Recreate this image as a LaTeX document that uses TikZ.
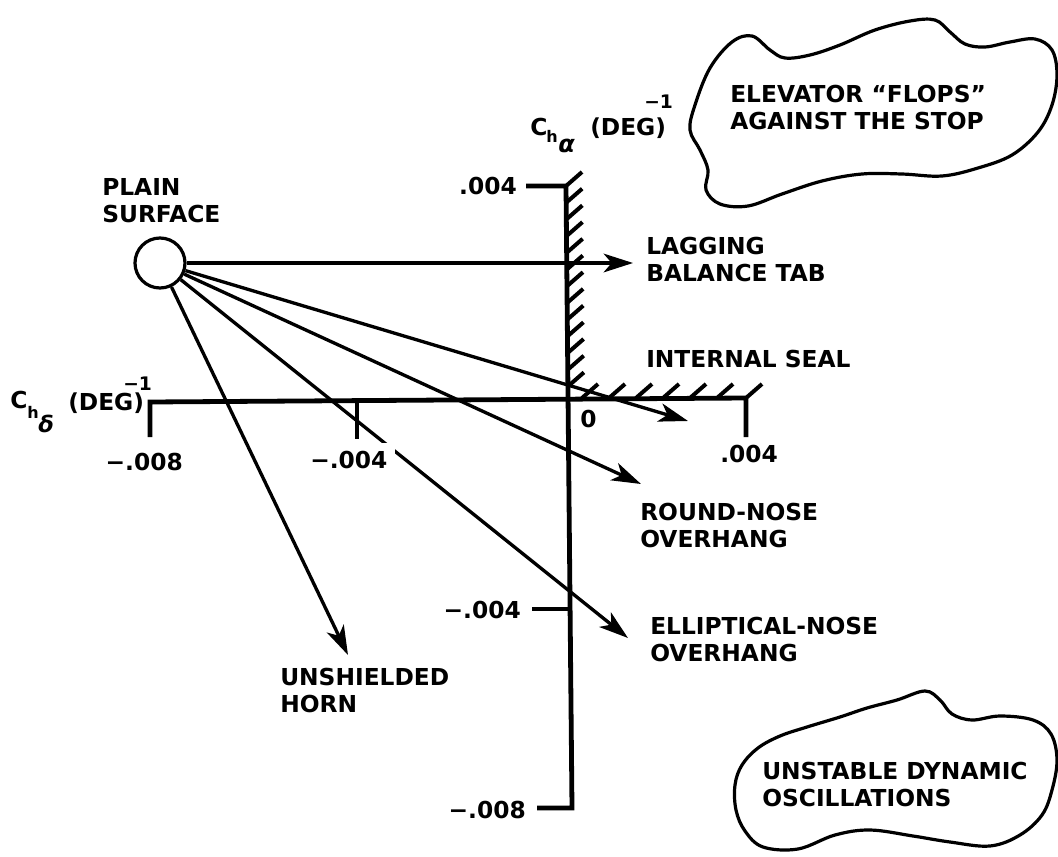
\documentclass[tikz,border=0pt]{standalone}
\usepackage{fontspec}
\setmainfont{DejaVu Sans}
\usetikzlibrary{arrows.meta}
\begin{document}
\begin{tikzpicture}[x=0.75pt,y=-0.75pt,
  lbl/.style={font=\bfseries\fontsize{17.5}{20.25}\selectfont, inner sep=0pt, align=left},
  sub/.style={font=\bfseries\fontsize{#1}{#1}\selectfont, inner sep=0pt},
  axisline/.style={line width=3.6pt, line join=miter},
  hatchline/.style={line width=3pt},
  arr/.style={line width=2.5pt,-{Stealth[length=22pt,width=14pt,inset=6pt]}},
  cloudline/.style={line width=2.4pt, line join=round},
]
\useasboundingbox (0,0) rectangle (1058,857);

% ---------- axes ----------
\coordinate (vtt) at (526,186);
\coordinate (vt) at (566,186);
\coordinate (vb) at (572,808);
\coordinate (vbt) at (537,808);
\coordinate (vm) at (569,609);
\coordinate (vmt) at (532,609);
\coordinate (hlt) at (150,437);
\coordinate (hl) at (150,402);
\coordinate (hr) at (746,398);
\coordinate (hrt) at (746,437);
\coordinate (hm) at (357,401);
\coordinate (hmt) at (357,439);
\draw[axisline] (vtt) -- (vt) -- (vb) -- (vbt);
\draw[axisline] (vmt) -- (vm);
\draw[axisline] (hlt) -- (hl) -- (hr) -- (hrt);
\draw[axisline] (hm) -- (hmt);

% hatching
\foreach \i in {0,...,12}
  \draw[hatchline] ({566+\i*0.16},{186+\i*16.7}) -- ++(16,-14);
\foreach \x in {582,609,636,663,690,717,746}
  \draw[hatchline] (\x,398) -- ++(16,-14);

% ---------- axis labels ----------
\node[lbl, anchor=base west] (ca) at (530,135) {C};
\node[sub=12, anchor=base west] (cah) at (546,142) {h};
\node[sub=18, anchor=base west] (caa) at (558,152) {\itshape α};
\node[lbl, anchor=base west] (cad) at (590,135) {(DEG)};
\node[sub=14, anchor=base west] (cam) at (644,108) {−1};

\node[lbl, anchor=base west] (cd) at (10,408) {C};
\node[sub=12, anchor=base west] (cdh) at (27,418) {h};
\node[sub=17, anchor=base west] (cdd) at (38,432) {\itshape δ};
\node[lbl, anchor=base west] (cdg) at (68,410) {(DEG)};
\node[sub=14, anchor=base west] (cdm) at (123,390) {−1};

% tick labels
\node[lbl, anchor=base east] (t1) at (517,194) {.004};
\node[lbl, anchor=base east] (t2) at (521,618) {−.004};
\node[lbl, anchor=base east] (t3) at (526,818) {−.008};
\node[lbl, anchor=base east] (t4) at (183,470) {−.008};
\node[lbl, anchor=base west] (t0) at (580,427) {0};
\node[lbl, anchor=base west] (t6) at (720,462) {.004};

% ---------- plain surface ----------
\node[draw, circle, line width=2.4pt, minimum size=37.5pt, inner sep=0pt] (ps) at (160,263) {};
\node[lbl, anchor=north west] (psl) at (102,178) {PLAIN\\SURFACE};

\coordinate (lagt) at (633,263);
\coordinate (sealt) at (688,421);
\coordinate (roundt) at (641,484);
\coordinate (ellt) at (628,638);
\coordinate (hornt) at (348,655);
\draw[arr] (ps) -- (lagt);
\draw[arr] (ps) -- (sealt);
\draw[arr] (ps) -- (roundt);
\draw[arr] (ps) -- (ellt);
\draw[arr] (ps) -- (hornt);

\node[lbl, anchor=base east, fill=white, inner sep=5.5pt] (t5) at (395,468) {−.004};

% ---------- arrow labels ----------
\node[lbl, anchor=north west] (lagl) at (646,237) {LAGGING\\BALANCE TAB};
\node[lbl, anchor=north west] (seall) at (646,350) {INTERNAL SEAL};
\node[lbl, anchor=north west] (roundl) at (640,503) {ROUND-NOSE\\OVERHANG};
\node[lbl, anchor=north west] (elll) at (650,617) {ELLIPTICAL-NOSE\\OVERHANG};
\node[lbl, anchor=north west] (hornl) at (280,668) {UNSHIELDED\\HORN};

% ---------- clouds ----------
\draw[cloudline] plot[smooth cycle, tension=0.6] coordinates {
  (695,105) (710,68) (732,42) (752,36) (770,50) (785,58) (810,55)
  (840,45) (875,30) (910,21) (935,20) (950,32) (965,44) (985,47)
  (1010,42) (1035,39) (1052,50) (1057,75) (1052,105) (1038,132)
  (1012,155) (978,168) (942,176) (902,174) (862,174) (822,181)
  (782,194) (748,206) (720,204) (706,190) (708,170) (700,150)
  (690,130)};
\node[lbl, anchor=north west] (cl1) at (730,85) {ELEVATOR “FLOPS”\\AGAINST THE STOP};

\draw[cloudline] plot[smooth cycle, tension=0.6] coordinates {
  (807,727) (840,717) (867,708) (897,700) (925,691) (940,700)
  (952,714) (972,720) (1000,716) (1033,720) (1051,734) (1057,760)
  (1052,790) (1042,815) (1020,835) (990,846) (950,842) (913,836)
  (870,830) (835,835) (798,849) (763,847) (745,831) (736,810)
  (735,785) (742,765) (758,748) (780,736)};
\node[lbl, anchor=north west] (cl2) at (762,762) {UNSTABLE DYNAMIC\\OSCILLATIONS};
\end{tikzpicture}
\end{document}
